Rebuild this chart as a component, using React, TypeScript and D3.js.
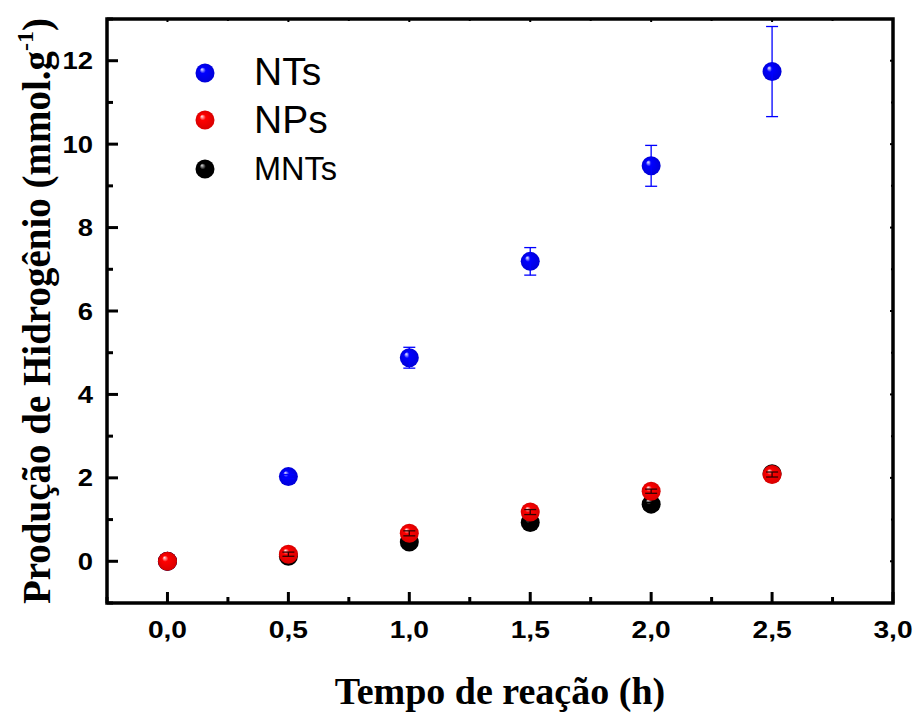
import React from "react";
import * as d3 from "d3";

// Reaction time (h)
const times = [0, 0.5, 1.0, 1.5, 2.0, 2.5];

// Hydrogen production (mmol/g) per sample
const ntsValues = [0, 2.03, 4.88, 7.19, 9.48, 11.74];
const ntsErrors = [0, 0.05, 0.25, 0.33, 0.49, 1.08];
const npsValues = [0, 0.17, 0.67, 1.18, 1.68, 2.08];
const npsErrors = [0, 0.05, 0.06, 0.06, 0.05, 0.06];
const mntsValues = [0, 0.12, 0.46, 0.93, 1.37, 2.1];
const mntsErrors = [0, 0.04, 0.04, 0.04, 0.04, 0.04];

const xTicks = [0, 0.5, 1.0, 1.5, 2.0, 2.5, 3.0];
const xMinorTicks = [-0.25, 0.25, 0.75, 1.25, 1.75, 2.25, 2.75];
const yTicks = [0, 2, 4, 6, 8, 10, 12];
const yMinorTicks = [-1, 1, 3, 5, 7, 9, 11, 13];

const seriesNames = ["NTs", "NPs", "MNTs"];

const W = 916;
const H = 716;
const left = 107;
const right = 893;
const top = 19;
const bottom = 603;

const x = d3.scaleLinear().domain([-0.25, 3.0]).range([left, right]);
const y = d3.scaleLinear().domain([-1, 13]).range([bottom, top]);

const fmt = (v: number) => v.toFixed(1).replace(".", ",");

type Series = {
  name: string;
  values: number[];
  errors: number[];
  grad: string;
  errColor: string;
};

// drawing order: NTs underneath, then MNTs, NPs on top
const series: Series[] = [
  { name: seriesNames[0], values: ntsValues, errors: ntsErrors, grad: "ballBlue", errColor: "#0000ff" },
  { name: seriesNames[2], values: mntsValues, errors: mntsErrors, grad: "ballBlack", errColor: "#000" },
  { name: seriesNames[1], values: npsValues, errors: npsErrors, grad: "ballRed", errColor: "#300" },
];

const R = 9.5;

function Ball({ cx, cy, grad }: { cx: number; cy: number; grad: string }) {
  return <circle cx={cx} cy={cy} r={R} fill={`url(#${grad})`} />;
}

export default function App() {
  const font = "'Liberation Sans', Arial, sans-serif";
  const serif = "'Liberation Serif', 'Times New Roman', serif";
  return (
    <svg
      width={W}
      height={H}
      style={{ position: "absolute", left: 0, top: 0, background: "#fff" }}
    >
      <defs>
        {[
          { id: "ballBlue", hi: "#f0f0ff", mid: "#0000ff", dark: "#0000d8" },
          { id: "ballRed", hi: "#fff0f0", mid: "#ff0000", dark: "#d80000" },
          { id: "ballBlack", hi: "#e0e0e0", mid: "#000000", dark: "#000000" },
        ].map((g) => (
          <radialGradient key={g.id} id={g.id} cx="0.5" cy="0.5" r="0.5" fx="0.33" fy="0.3">
            <stop offset="0" stopColor={g.hi} />
            <stop offset="0.32" stopColor={g.mid} />
            <stop offset="1" stopColor={g.dark} />
          </radialGradient>
        ))}
      </defs>

      {/* data points and error bars */}
      {series.map((s) => (
        <g key={s.name}>
          {times.map((t, i) => (
            <Ball key={i} cx={x(t)} cy={y(s.values[i])} grad={s.grad} />
          ))}
          {times.map((t, i) =>
            s.errors[i] > 0 ? (
              <g key={"e" + i} stroke={s.errColor} strokeWidth={1.3}>
                <line x1={x(t)} x2={x(t)} y1={y(s.values[i] + s.errors[i])} y2={y(s.values[i] - s.errors[i])} />
                <line x1={x(t) - 6} x2={x(t) + 6} y1={y(s.values[i] + s.errors[i])} y2={y(s.values[i] + s.errors[i])} />
                <line x1={x(t) - 6} x2={x(t) + 6} y1={y(s.values[i] - s.errors[i])} y2={y(s.values[i] - s.errors[i])} />
              </g>
            ) : null
          )}
        </g>
      ))}

      {/* frame */}
      <rect x={left} y={top} width={right - left} height={bottom - top} fill="none" stroke="#000" strokeWidth={3.5} />

      {/* x ticks */}
      {xTicks.map((t) => (
        <g key={"xt" + t}>
          <line x1={x(t)} x2={x(t)} y1={bottom} y2={bottom - 11} stroke="#000" strokeWidth={3} />
          <line x1={x(t)} x2={x(t)} y1={top} y2={top + 3} stroke="#000" strokeWidth={2} />
          <text
            transform={`translate(${x(t)}, 638) scale(1.15, 1)`}
            textAnchor="middle"
            fontFamily={font}
            fontWeight="bold"
            fontSize={24.5}
          >
            {fmt(t)}
          </text>
        </g>
      ))}
      {xMinorTicks.map((t) => (
        <g key={"xm" + t}>
          <line x1={x(t)} x2={x(t)} y1={bottom} y2={bottom - 6} stroke="#000" strokeWidth={3} />
          <line x1={x(t)} x2={x(t)} y1={top} y2={top + 2} stroke="#000" strokeWidth={2} />
        </g>
      ))}

      {/* y ticks */}
      {yTicks.map((t) => (
        <g key={"yt" + t}>
          <line x1={left} x2={left + 11} y1={y(t)} y2={y(t)} stroke="#000" strokeWidth={3} />
          <line x1={right} x2={right - 3} y1={y(t)} y2={y(t)} stroke="#000" strokeWidth={2} />
          <text
            transform={`translate(93, ${y(t) + 8.5}) scale(1.12, 1)`}
            textAnchor="end"
            fontFamily={font}
            fontWeight="bold"
            fontSize={24.5}
          >
            {t}
          </text>
        </g>
      ))}
      {yMinorTicks.map((t) => (
        <g key={"ym" + t}>
          <line x1={left} x2={left + 6} y1={y(t)} y2={y(t)} stroke="#000" strokeWidth={3} />
          <line x1={right} x2={right - 2} y1={y(t)} y2={y(t)} stroke="#000" strokeWidth={2} />
        </g>
      ))}

      {/* axis titles */}
      <text x={500} y={704} textAnchor="middle" fontFamily={serif} fontWeight="bold" fontSize={38}>
        Tempo de reação (h)
      </text>
      <text
        transform={`translate(50, 311) rotate(-90)`}
        textAnchor="middle"
        fontFamily={serif}
        fontWeight="bold"
        fontSize={39}
      >
        Produção de Hidrogênio (mmol.g
        <tspan dy={-17} fontSize={24}>-1</tspan>
        <tspan dy={17}>)</tspan>
      </text>

      {/* legend */}
      <Ball cx={205} cy={73} grad="ballBlue" />
      <Ball cx={205} cy={120} grad="ballRed" />
      <Ball cx={205} cy={169} grad="ballBlack" />
      <text x={254} y={85} fontFamily={font} fontSize={39}>{seriesNames[0]}</text>
      <text x={254} y={133} fontFamily={font} fontSize={39}>{seriesNames[1]}</text>
      <text x={254} y={180} fontFamily={font} fontSize={32.5}>{seriesNames[2]}</text>
    </svg>
  );
}
